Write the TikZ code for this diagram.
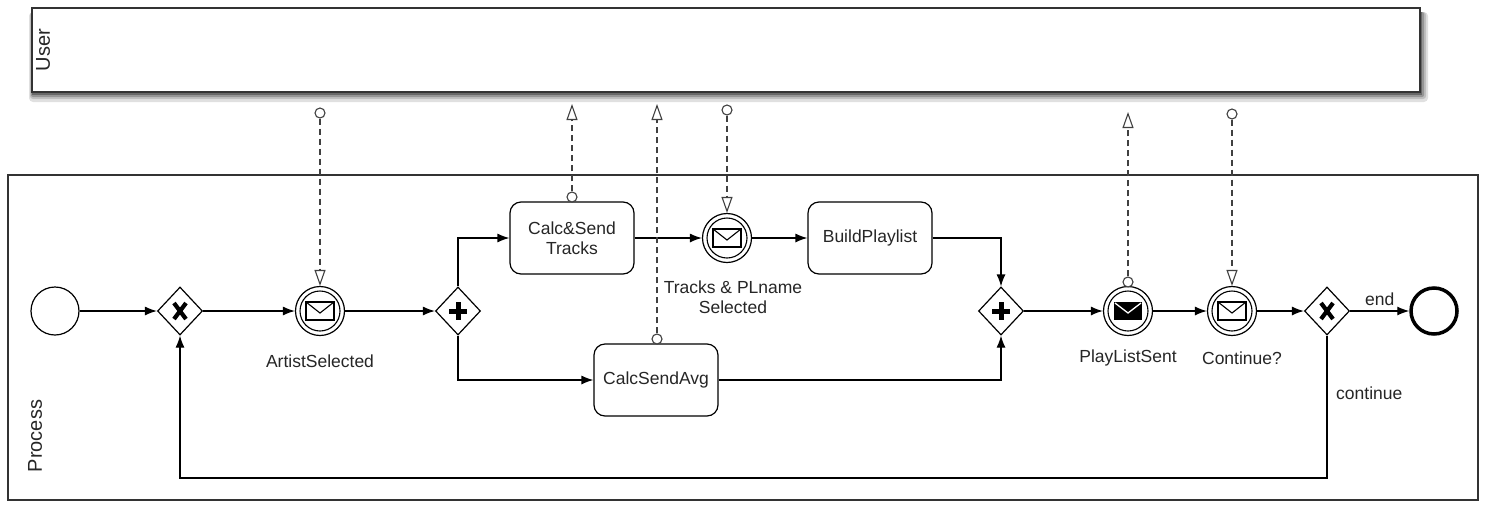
\documentclass[tikz,border=0pt]{standalone}
\usepackage{fontspec}
\setmainfont{Liberation Sans}
\usetikzlibrary{shapes.geometric,arrows.meta,calc}
\begin{document}
\begin{tikzpicture}[x=1pt,y=-1pt,
  font=\fontsize{17.5}{20}\selectfont,
  txt/.style={text=black!85, inner sep=0pt},
  pooltxt/.style={text=black!85, inner sep=0pt, rotate=90, font=\fontsize{20}{22}\selectfont},
  pool/.style={draw=black!80, line width=1.2pt, fill=white, inner sep=0pt},
  shade/.style={fill=black, opacity=#1},
  seq/.style={draw=black, line width=1.2pt, -{Latex[length=12pt,width=9pt]}},
  msg/.style={draw=black!75, line width=1.1pt, dash pattern=on 6pt off 4pt, -{Triangle[open,length=16pt,width=11pt,line width=1.1pt]}},
  msgsrc/.style={circle, draw=black!75, fill=white, line width=1.1pt, minimum size=10pt, inner sep=0pt},
  task/.style={draw, rounded corners=11pt, line width=1.2pt, minimum width=124pt, minimum height=72pt, align=center, fill=white, text=black!85},
  gate/.style={diamond, draw, line width=1.2pt, minimum width=45pt, minimum height=48pt, inner sep=0pt, fill=white},
  ievent/.style={circle, draw, line width=1.2pt, minimum size=49pt, inner sep=0pt, fill=white},
  sevent/.style={circle, draw, line width=1.2pt, minimum size=48pt, inner sep=0pt, fill=white},
  eevent/.style={circle, draw, line width=3.5pt, minimum size=46pt, inner sep=0pt, fill=white},
  xmark/.style={line width=4.2pt, draw=black},
  pmark/.style={line width=5pt, draw=black}
]
\useasboundingbox (0,0) rectangle (1488,504);

% pool shadow
\fill[shade=0.12, rounded corners=4pt] (29,12) rectangle (1428,102);
\fill[shade=0.15, rounded corners=3pt] (30,12) rectangle (1426,99);
\fill[shade=0.22, rounded corners=2pt] (31,12) rectangle (1424,97);
\fill[shade=0.3] (32,12) rectangle (1422,95);
% pools
\node[pool, minimum width=1388pt, minimum height=84pt] (user) at (726,50) {};
\node[pooltxt] (userlbl) at (43,50) {User};
\node[pool, minimum width=1470pt, minimum height=325pt] (proc) at (743,337.5) {};
\node[pooltxt] (proclbl) at (35,436) {Process};

% flow objects
\node[sevent] (start) at (55,311) {};
\node[gate] (x1) at (180,311) {};
\node[ievent] (e1) at (320,311) {};
\node[gate] (p1) at (458,311) {};
\node[task] (t1) at (572,238) {Calc\&Send\\Tracks};
\node[ievent] (e2) at (727,238) {};
\node[task] (t3) at (870,238) {BuildPlaylist};
\node[task] (t2) at (656,380) {CalcSendAvg};
\node[gate] (p2) at (1001,311) {};
\node[ievent] (e3) at (1128,311) {};
\node[ievent] (e4) at (1232,311) {};
\node[gate] (x2) at (1327,311) {};
\node[eevent] (endev) at (1434,311) {};

% inner circles
\foreach \e in {e1,e2,e3,e4} \draw[line width=1.1pt] (\e.center) circle (20pt);
% envelopes
\foreach \e in {e1,e2,e4} {
  \draw[line width=1.1pt] ($(\e)+(-14,-9)$) rectangle ($(\e)+(14,9)$);
  \draw[line width=1.1pt] ($(\e)+(-14,-9)$) -- ($(\e)+(0,2)$) -- ($(\e)+(14,-9)$);
}
\fill[black] ($(e3)+(-14,-9)$) rectangle ($(e3)+(14,9)$);
\draw[white, line width=1.3pt] ($(e3)+(-13,-8)$) -- ($(e3)+(0,2)$) -- ($(e3)+(13,-8)$);

% gateway markers
\foreach \g in {x1,x2} {
  \draw[xmark] ($(\g)+(-6,-8)$) -- ($(\g)+(6,8)$);
  \draw[xmark] ($(\g)+(6,-8)$) -- ($(\g)+(-6,8)$);
}
\foreach \g in {p1,p2} {
  \draw[pmark] ($(\g)+(-9,0)$) -- ($(\g)+(9,0)$);
  \draw[pmark] ($(\g)+(0,-9)$) -- ($(\g)+(0,9)$);
}

% labels
\node[txt] (l1) at (320,361) {ArtistSelected};
\node[txt, align=center] (l2) at (733,297) {Tracks \& PLname\\Selected};
\node[txt] (l3) at (1128,358) {PlayListSent};
\node[txt] (l4) at (1242,358) {Continue?};

% sequence flows
\coordinate (lpy) at (0,478);
\draw[seq] (start) -- (x1);
\draw[seq] (x1) -- (e1);
\draw[seq] (e1) -- (p1);
\draw[seq] (p1.north) |- (t1.west);
\draw[seq] (p1.south) |- (t2.west);
\draw[seq] (t1) -- (e2);
\draw[seq] (e2) -- (t3);
\draw[seq] (t3.east) -| (p2.north);
\draw[seq] (t2.east) -| (p2.south);
\draw[seq] (p2) -- (e3);
\draw[seq] (e3) -- (e4);
\draw[seq] (e4) -- (x2);
\draw[seq] (x2) -- node[txt, above=5pt, text=black!85] (endlbl) {end} (endev);
\draw[seq] (x2.south) -- (x2.south |- lpy) -| (x1.south);
\node[txt, anchor=west] (contlbl) at (1336,393) {continue};

% message flows
\node[msgsrc] (m1s) at (320,113) {};
\draw[msg] (m1s) -- (e1);
\node[msgsrc] (m2s) at (572,197) {};
\coordinate (m2t) at (572,104);
\draw[msg] (m2s) -- (m2t);
\node[msgsrc] (m3s) at (657,339) {};
\coordinate (m3t) at (657,104);
\draw[msg] (m3s) -- (m3t);
\node[msgsrc] (m4s) at (727,110) {};
\draw[msg] (m4s) -- (e2);
\node[msgsrc] (m5s) at (1128,282) {};
\coordinate (m5t) at (1128,112);
\draw[msg] (m5s) -- (m5t);
\node[msgsrc] (m6s) at (1232,114) {};
\draw[msg] (m6s) -- (e4);
\end{tikzpicture}
\end{document}
